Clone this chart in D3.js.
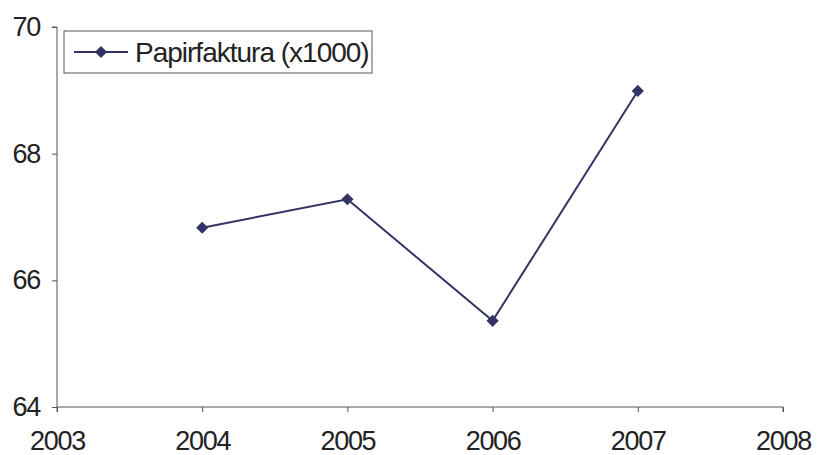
<!DOCTYPE html>
<html>
<head>
<meta charset="utf-8">
<script src="https://cdn.jsdelivr.net/npm/d3@7"></script>
<style>
  body { margin: 0; background: #fff; }
  text { font-family: "Liberation Sans", Arial, sans-serif; fill: #222; }
</style>
</head>
<body>
<div id="chart"></div>
<script>
var years = [2004, 2005, 2006, 2007];
var values = [66.83, 67.28, 65.36, 68.99];
var seriesName = "Papirfaktura (x1000)";
var xTicks = [2003, 2004, 2005, 2006, 2007, 2008];
var yTicks = [64, 66, 68, 70];

var W = 817, H = 455;
var margin = { top: 27, right: 34, bottom: 48, left: 57 };
var width = W - margin.left - margin.right;
var height = H - margin.top - margin.bottom;
var color = "#333366";

var svg = d3.select("#chart").append("svg")
  .attr("width", W).attr("height", H)
  .append("g")
  .attr("transform", "translate(" + margin.left + "," + margin.top + ")");

var x = d3.scaleLinear().domain([2003, 2008]).range([0, width]);
var y = d3.scaleLinear().domain([64, 70]).range([height, 0]);

// axes
var xAxis = svg.append("g")
  .attr("transform", "translate(0," + height + ")")
  .call(d3.axisBottom(x).tickValues(xTicks).tickFormat(d3.format("d")).tickSize(5).tickPadding(19));
var yAxis = svg.append("g")
  .call(d3.axisLeft(y).tickValues(yTicks).tickFormat(d3.format("d")).tickSize(5).tickPadding(12));

[xAxis, yAxis].forEach(function (g) {
  g.selectAll("path, line").attr("stroke", "#555").attr("stroke-width", 1);
  g.selectAll("text")
    .style("font-family", "'Liberation Sans', Arial, sans-serif")
    .style("font-size", "27px")
    .style("letter-spacing", "-1.3px")
    .attr("fill", "#222");
});
yAxis.select(".domain").attr("d", "M0," + height + "V0H-5");
xAxis.select(".domain").attr("d", "M0,5V0H" + width + "V5");

var data = years.map(function (d, i) { return { year: d, value: values[i] }; });

var line = d3.line()
  .x(function (d) { return x(d.year); })
  .y(function (d) { return y(d.value); });

svg.append("path")
  .datum(data)
  .attr("d", line)
  .attr("fill", "none")
  .attr("stroke", color)
  .attr("stroke-width", 2);

var diamond = d3.symbol().type(d3.symbolDiamond2).size(95);
svg.selectAll(".pt")
  .data(data)
  .enter().append("path")
  .attr("class", "pt")
  .attr("d", diamond)
  .attr("transform", function (d) { return "translate(" + x(d.year) + "," + y(d.value) + ")"; })
  .attr("fill", color);

// legend
var legend = svg.append("g").attr("transform", "translate(7,4)");
legend.append("rect")
  .attr("width", 308).attr("height", 42)
  .attr("fill", "#fff").attr("stroke", "#555").attr("stroke-width", 1);
legend.append("line")
  .attr("x1", 10).attr("x2", 64).attr("y1", 21).attr("y2", 21)
  .attr("stroke", color).attr("stroke-width", 2);
legend.append("path")
  .attr("d", diamond)
  .attr("transform", "translate(37,21)")
  .attr("fill", color);
legend.append("text")
  .attr("x", 71).attr("y", 21).attr("dy", "0.35em")
  .style("font-size", "28px")
  .style("letter-spacing", "-1px")
  .text(seriesName);
</script>
</body>
</html>
